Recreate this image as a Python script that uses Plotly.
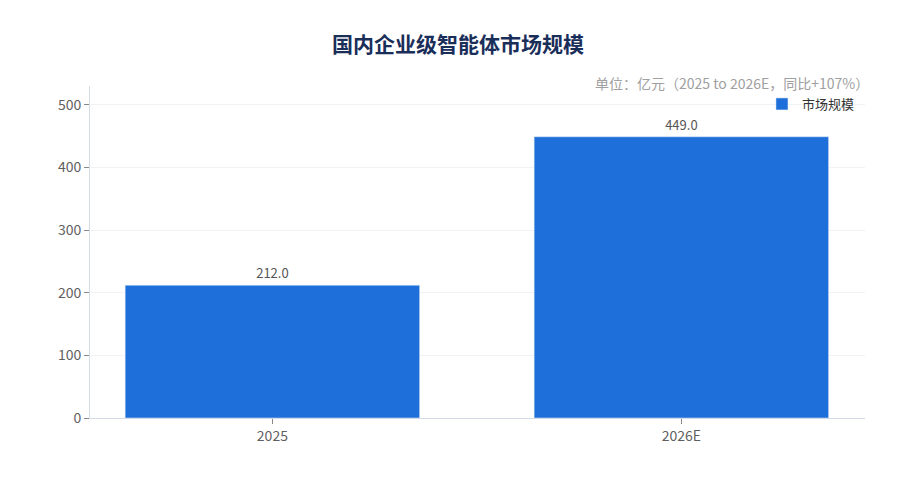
import plotly.graph_objects as go

# data
categories = ["2025", "2026E"]
values = [212.0, 449.0]
series_name = "市场规模"
title_text = "国内企业级智能体市场规模"
unit_note = "单位：亿元（2025 to 2026E，同比+107%）"

FONT = "Noto Sans CJK SC, Noto Sans, sans-serif"

fig = go.Figure(go.Bar(
    x=categories,
    y=values,
    name=series_name,
    marker=dict(color="#1f6fdb"),
    text=[f"{v:.1f}" for v in values],
    textposition="outside",
    textfont=dict(size=13, color="#555555"),
    cliponaxis=False,
    showlegend=True,
))

# page body adds an 8px offset, margins below compensate for it
fig.update_layout(
    width=900,
    height=480,
    margin=dict(l=82, r=43, t=78, b=70),
    paper_bgcolor="white",
    plot_bgcolor="white",
    font=dict(family=FONT, color="#555555", size=14),
    title=dict(
        text=f"<b>{title_text}</b>",
        x=0.5, xanchor="center",
        y=0.923, yanchor="middle",
        font=dict(size=21, color="#1a2e5a", family=FONT),
    ),
    bargap=0.28,
    legend=dict(
        x=0.9935, xanchor="right",
        y=0.991, yanchor="top",
        bgcolor="rgba(0,0,0,0)",
        font=dict(size=13, color="#333333"),
        itemwidth=30,
    ),
    xaxis=dict(
        range=[-0.446, 1.449],
        showline=True, linecolor="#d5dbe6", linewidth=1,
        ticks="outside", tickcolor="#888888", ticklen=5,
        tickfont=dict(size=14, color="#5f5f5f"),
        showgrid=False,
    ),
    yaxis=dict(
        range=[0, 530],
        dtick=100,
        showline=True, linecolor="#d5dbe6", linewidth=1,
        ticks="outside", tickcolor="#888888", ticklen=5,
        tickfont=dict(size=14, color="#5f5f5f"),
        showgrid=True, gridcolor="#f0f2f5",
        zeroline=False,
    ),
    annotations=[dict(
        text=unit_note,
        xref="paper", yref="paper",
        x=1.0, xanchor="right",
        y=1.0, yanchor="bottom",
        xshift=6, yshift=-9,
        showarrow=False,
        font=dict(size=14, color="#a0a0a0"),
    )],
)

fig.write_html("out.html")
